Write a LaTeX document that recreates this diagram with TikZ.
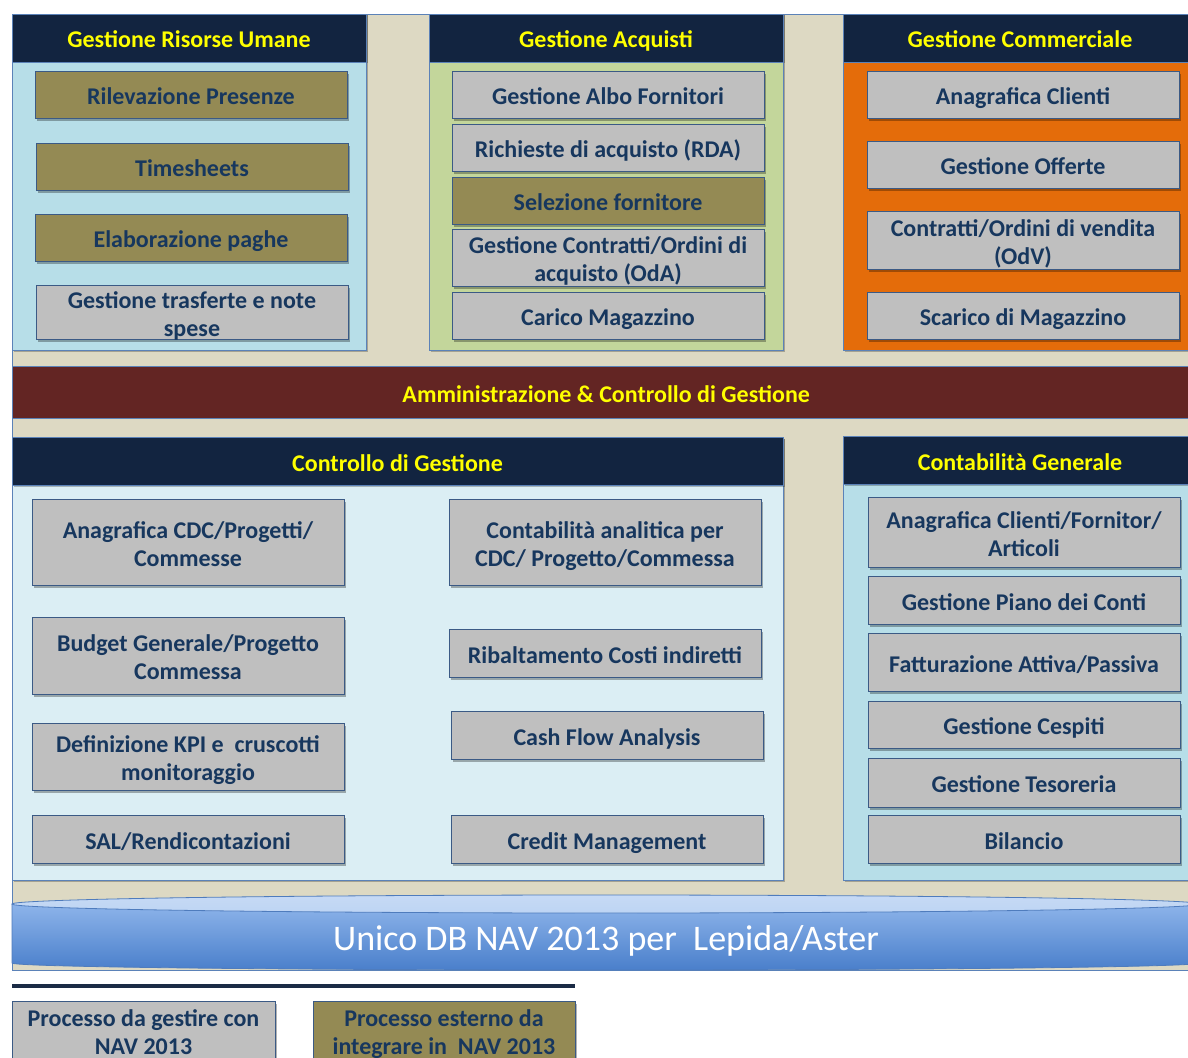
\documentclass[tikz,border=0pt]{standalone}
\usepackage{fontspec}
\setmainfont{Carlito}
\usetikzlibrary{shadows}

\definecolor{navyhead}{HTML}{122440}
\definecolor{headyellow}{HTML}{FFFF00}
\definecolor{edgeblue}{HTML}{5B82B8}
\definecolor{boxedge}{HTML}{3B5A85}
\definecolor{boxtext}{HTML}{17375E}
\definecolor{procgray}{HTML}{BFBFBF}
\definecolor{extolive}{HTML}{948A54}
\definecolor{beige}{HTML}{DDD9C3}
\definecolor{hrblue}{HTML}{B7DEE8}
\definecolor{acqgreen}{HTML}{C3D69B}
\definecolor{comorange}{HTML}{E46C0A}
\definecolor{cdglight}{HTML}{DBEEF4}
\definecolor{bandred}{HTML}{632523}
\definecolor{dbtop}{HTML}{C6DAF5}
\definecolor{dbmid}{HTML}{8DB4EA}
\definecolor{dbbot}{HTML}{4A7FCB}
\definecolor{dbedge}{HTML}{4F7CBD}
\definecolor{legendline}{HTML}{1B2B45}

\begin{document}
\begin{tikzpicture}[x=1pt, y=-1pt,
  boxfont/.style={font=\bfseries\fontsize{24}{28}\selectfont, text height=25pt, text depth=5pt},
  twoline/.style={text height=48pt, text depth=0pt},
  panel/.style={draw=edgeblue, line width=0.8pt, anchor=north west, inner sep=0pt, outer sep=0pt, minimum width=354pt,
    drop shadow={shadow xshift=1.5pt, shadow yshift=-1.5pt, opacity=0.25, fill=black}},
  head/.style={panel, fill=navyhead, text=headyellow, minimum height=48pt, boxfont},
  procbox/.style={draw=boxedge, line width=0.8pt, fill=procgray, anchor=north west, inner sep=0pt, outer sep=0pt,
    minimum width=312pt, minimum height=47pt, text=boxtext, align=center, boxfont,
    drop shadow={shadow xshift=1.5pt, shadow yshift=-2.5pt, opacity=0.3, fill=black}},
  extbox/.style={procbox, fill=extolive}]

\clip (0,0) rectangle (1188,1057);
\fill[white] (0,0) rectangle (1188,1057);
\node[draw=edgeblue, fill=beige, anchor=north west, inner sep=0pt, minimum width=1188pt, minimum height=956pt] (bg) at (12,14) {};

% Gestione Risorse Umane
\node[panel, fill=hrblue, minimum height=336pt] (hrpanel) at (12,14) {};
\node[head] (hrhead) at (12,14) {Gestione Risorse Umane};
\node[extbox] (presenze) at (35,71) {Rilevazione Presenze};
\node[extbox] (timesheets) at (36,143) {Timesheets};
\node[extbox] (paghe) at (35,214) {Elaborazione paghe};
\node[procbox, twoline, minimum height=54pt] (trasferte) at (36,285) {Gestione trasferte e note\\spese};

% Gestione Acquisti
\node[panel, fill=acqgreen, minimum height=336pt] (acqpanel) at (429,14) {};
\node[head] (acqhead) at (429,14) {Gestione Acquisti};
\node[procbox] (albo) at (452,71) {Gestione Albo Fornitori};
\node[procbox] (rda) at (452,124) {Richieste di acquisto (RDA)};
\node[extbox] (selezione) at (452,177) {Selezione fornitore};
\node[procbox, twoline, minimum height=57pt] (oda) at (452,229) {Gestione Contratti/Ordini di\\acquisto (OdA)};
\node[procbox] (carico) at (452,292) {Carico Magazzino};

% Gestione Commerciale
\node[panel, fill=comorange, minimum height=336pt] (companel) at (843,14) {};
\node[head] (comhead) at (843,14) {Gestione Commerciale};
\node[procbox] (clienti) at (867,71) {Anagrafica Clienti};
\node[procbox] (offerte) at (867,141) {Gestione Offerte};
\node[procbox, twoline, minimum height=58pt] (odv) at (867,211) {Contratti/Ordini di vendita\\(OdV)};
\node[procbox] (scarico) at (867,292) {Scarico di Magazzino};

% Amministrazione
\node[draw=edgeblue, fill=bandred, anchor=north west, inner sep=0pt, minimum width=1188pt, minimum height=52pt,
  text=headyellow, boxfont] (admin) at (12,366) {Amministrazione \& Controllo di Gestione};

% Controllo di Gestione
\node[panel, fill=cdglight, minimum width=771pt, minimum height=443pt] (cdgpanel) at (12,437) {};
\node[head, minimum width=771pt] (cdghead) at (12,437) {Controllo di Gestione};
\node[procbox, twoline, minimum height=86pt] (cdc) at (32,499) {Anagrafica CDC/Progetti/\\Commesse};
\node[procbox, twoline, minimum height=77pt] (budget) at (32,617) {Budget Generale/Progetto\\Commessa};
\node[procbox, twoline, minimum height=67pt] (kpi) at (32,723) {Definizione KPI e\ \ cruscotti\\monitoraggio};
\node[procbox, minimum height=48pt] (sal) at (32,815) {SAL/Rendicontazioni};
\node[procbox, twoline, minimum height=86pt] (analitica) at (449,499) {Contabilità analitica per\\CDC/ Progetto/Commessa};
\node[procbox, minimum height=48pt] (ribaltamento) at (449,629) {Ribaltamento Costi indiretti};
\node[procbox, minimum height=48pt] (cashflow) at (451,711) {Cash Flow Analysis};
\node[procbox, minimum height=48pt] (credit) at (451,815) {Credit Management};

% Contabilita Generale
\node[panel, fill=hrblue, minimum height=444pt] (cogepanel) at (843,436) {};
\node[head] (cogehead) at (843,436) {Contabilità Generale};
\node[procbox, twoline, minimum height=70pt] (anagrafica) at (868,497) {Anagrafica Clienti/Fornitor/\\Articoli};
\node[procbox, minimum height=48pt] (piano) at (868,576) {Gestione Piano dei Conti};
\node[procbox, minimum height=58pt] (fatturazione) at (868,633) {Fatturazione Attiva/Passiva};
\node[procbox, minimum height=47pt] (cespiti) at (868,701) {Gestione Cespiti};
\node[procbox, minimum height=49pt] (tesoreria) at (868,758) {Gestione Tesoreria};
\node[procbox, minimum height=48pt] (bilancio) at (868,815) {Bilancio};

% DB
\shade[top color=dbmid, bottom color=dbbot] (12,904) -- (12,963) arc[start angle=180, end angle=0, x radius=594, y radius=7] -- (1200,904) -- cycle;
\draw[dbedge, line width=0.8pt] (12,904) -- (12,963) arc[start angle=180, end angle=0, x radius=594, y radius=7] -- (1200,904);
\shade[top color=dbtop, bottom color=dbtop!85!dbmid, draw=dbedge, line width=0.8pt] (606,904) ellipse [x radius=594, y radius=9];
\node[text=white, font=\fontsize{36}{40}\selectfont] (db) at (606,941) {Unico DB NAV 2013 per\ \ Lepida/Aster};

% legenda
\coordinate (sepleft) at (12,986);
\coordinate (sepright) at (575,986);
\draw[legendline, line width=4pt] (sepleft) -- (sepright);
\node[procbox, twoline, text height=44pt, minimum width=263pt, minimum height=62pt] (legproc) at (12,1001) {Processo da gestire con\\NAV 2013};
\node[extbox, twoline, text height=44pt, minimum width=262pt, minimum height=62pt] (legext) at (313,1001) {Processo esterno da\\integrare in\ \ NAV 2013};
\end{tikzpicture}
\end{document}
